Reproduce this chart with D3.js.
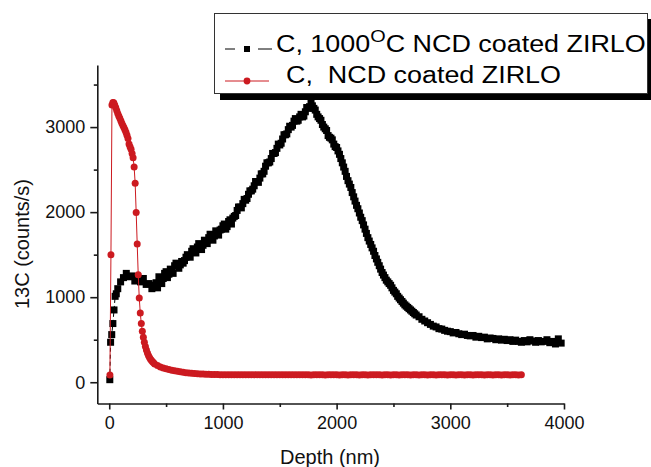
<!DOCTYPE html>
<html lang="en">
<head>
    <meta charset="UTF-8" />
    <title>13C depth profile</title>
    <script src="https://d3js.org/d3.v7.min.js"></script>
    <style>
        body, html {
            margin: 0;
            padding: 0;
            background: #fff;
        }
        svg {
            display: block;
            font-family: "Liberation Sans", Arial, sans-serif;
        }
        .axis path, .axis line {
            stroke: #1a1a1a;
            stroke-width: 1.6px;
        }
        .axis text {
            font-family: "Liberation Sans", Arial, sans-serif;
            font-size: 18px;
            fill: #111;
        }
    </style>
</head>
<body>
    <div id="chart"></div>

    <script>
        // tick values
        const xMajorTicks = [0, 1000, 2000, 3000, 4000];
        const xMinorTicks = [500, 1500, 2500, 3500];
        const yMajorTicks = [0, 1000, 2000, 3000];
        const yMinorTicks = [500, 1500, 2500, 3500];

        // [depth nm, counts/s] - C, 1000oC NCD coated ZIRLO (black squares)
        const annealed = [
            [5,30],[12,470],[22,560],[32,690],[42,850],[52,1010],[62,1040],[75,1100],
            [100,1180],[125,1230],[150,1280],[175,1240],[200,1250],[225,1190],[250,1240],[275,1180],[300,1220],[325,1150],
            [350,1160],[375,1100],[400,1140],[412,1170],[425,1110],[437,1240],[450,1200],[462,1160],[475,1220],[487,1280],
            [500,1300],[512,1230],[525,1270],[537,1330],[550,1300],[562,1280],[575,1370],[587,1400],[600,1370],[612,1340],
            [625,1380],[637,1420],[650,1400],[662,1430],[675,1470],[687,1500],[700,1480],[712,1470],[725,1540],[737,1570],
            [750,1550],[762,1520],[775,1590],[787,1630],[800,1600],[812,1560],[825,1610],[837,1670],[850,1650],[862,1630],
            [875,1700],[887,1740],[900,1710],[912,1670],[925,1720],[937,1780],[950,1760],[962,1730],[975,1790],[987,1800],
            [1000,1840],[1012,1860],[1025,1800],[1037,1830],[1050,1890],[1062,1910],[1075,1860],[1087,1930],[1100,1950],[1112,1960],
            [1125,2020],[1137,2060],[1150,2060],[1162,2050],[1175,2100],[1187,2150],[1200,2140],[1212,2160],[1225,2210],[1237,2250],
            [1250,2250],[1262,2270],[1275,2310],[1287,2360],[1300,2360],[1312,2350],[1325,2400],[1337,2450],[1350,2450],[1362,2480],
            [1375,2540],[1387,2580],[1400,2580],[1412,2590],[1425,2630],[1437,2690],[1450,2690],[1462,2700],[1475,2750],[1487,2800],
            [1500,2790],[1512,2810],[1525,2860],[1537,2910],[1550,2910],[1562,2920],[1575,2970],[1587,3010],[1600,3000],[1612,3020],
            [1625,3070],[1637,3100],[1650,3070],[1662,3080],[1675,3120],[1687,3150],[1700,3120],[1712,3130],[1725,3180],[1737,3230],
            [1750,3220],[1762,3240],[1775,3280],[1787,3250],[1800,3220],[1812,3200],[1825,3150],[1837,3120],[1850,3100],[1862,3080],
            [1875,3030],[1887,3000],[1900,2980],[1912,2960],[1925,2900],[1937,2880],[1950,2870],[1962,2850],[1975,2800],[1987,2770],
            [2000,2760],[2012,2720],[2025,2680],[2037,2630],[2050,2580],[2062,2530],[2075,2480],[2087,2420],[2100,2370],[2112,2330],
            [2125,2290],[2137,2230],[2150,2180],[2162,2130],[2175,2080],[2187,2040],[2200,1990],[2212,1940],[2225,1900],[2237,1850],
            [2250,1800],[2262,1750],[2275,1700],[2287,1660],[2300,1620],[2312,1580],[2325,1540],[2337,1490],[2350,1450],[2362,1410],
            [2375,1370],[2387,1330],[2400,1290],[2412,1260],[2425,1230],[2437,1200],[2450,1180],[2462,1160],[2475,1140],[2487,1110],
            [2500,1080],[2512,1060],[2525,1040],[2537,1010],[2550,990],[2562,970],[2575,950],[2587,930],[2600,910],[2612,895],
            [2625,880],[2637,865],[2650,850],[2662,835],[2675,820],[2687,805],[2700,790],[2725,770],[2750,740],[2775,720],
            [2800,700],[2825,680],[2850,660],[2875,650],[2900,630],[2925,625],[2950,610],[2975,600],[3000,595],[3025,580],
            [3050,585],[3075,570],[3100,560],[3125,565],[3150,550],[3175,545],[3200,550],[3225,530],[3250,540],[3275,525],
            [3300,530],[3325,510],[3350,520],[3375,515],[3400,500],[3425,510],[3450,495],[3475,505],[3500,490],[3525,500],
            [3550,480],[3575,495],[3600,480],[3625,470],[3650,490],[3675,475],[3700,500],[3725,485],[3750,470],[3775,490],
            [3800,475],[3825,480],[3850,500],[3875,465],[3900,480],[3925,450],[3950,510],[3975,460]
        ];

        // [depth nm, counts/s] - C, NCD coated ZIRLO (red circles)
        const asCoated = [
            [6,86],[15,1500],[24,3260],[32,3290],[40,3285],[48,3260],[57,3230],[66,3195],[75,3160],[84,3130],
            [93,3105],[102,3075],[111,3045],[120,3020],[129,2995],[138,2970],[147,2940],[156,2905],[165,2865],[174,2800],
            [183,2770],[192,2740],[201,2690],[210,2640],[219,2530],[228,2340],[237,1995],[246,1625],[255,1265],[264,990],
            [273,815],[282,690],[291,600],[300,530],[309,470],[318,420],[327,380],[336,345],[345,315],[354,290],
            [363,270],[372,255],[381,240],[390,228],[400,215],[425,198],[450,180],[475,168],[500,158],[525,150],
            [550,142],[575,135],[600,128],[625,122],[650,117],[675,113],[700,109],[725,106],[750,103],[775,100],
            [800,98],[825,96],[850,95],[875,93],[900,92],[925,91],[950,90],[975,89],[1000,89],[1025,88],
            [1050,88],[1075,87],[1100,88],[1125,87],[1150,88],[1175,88],[1200,87],[1225,88],[1250,87],[1275,87],
            [1300,88],[1325,87],[1350,88],[1375,87],[1400,87],[1425,88],[1450,87],[1475,88],[1500,87],[1525,87],
            [1550,88],[1575,87],[1600,87],[1625,88],[1650,87],[1675,87],[1700,88],[1725,87],[1750,87],[1775,86],
            [1800,87],[1825,87],[1850,88],[1875,87],[1900,86],[1925,87],[1950,87],[1975,88],[2000,87],[2025,86],
            [2050,87],[2075,87],[2100,86],[2125,87],[2150,88],[2175,87],[2200,86],[2225,87],[2250,87],[2275,86],
            [2300,87],[2325,87],[2350,88],[2375,87],[2400,86],[2425,87],[2450,87],[2475,86],[2500,87],[2525,87],
            [2550,86],[2575,87],[2600,88],[2625,87],[2650,86],[2675,87],[2700,87],[2725,86],[2750,87],[2775,87],
            [2800,86],[2825,87],[2850,87],[2875,86],[2900,87],[2925,88],[2950,87],[2975,86],[3000,87],[3025,87],
            [3050,86],[3075,87],[3100,87],[3125,86],[3150,87],[3175,87],[3200,86],[3225,87],[3250,88],[3275,87],
            [3300,86],[3325,87],[3350,87],[3375,86],[3400,87],[3425,87],[3450,86],[3475,87],[3500,87],[3525,86],
            [3550,87],[3575,87],[3600,86],[3625,87]
        ];

        const red = "#cc1a20";
        const width = 651, height = 467;

        const svg = d3.select("#chart").append("svg")
            .attr("width", width)
            .attr("height", height);

        const x = d3.scaleLinear().domain([-105, 4000]).range([97.3, 564]);
        const y = d3.scaleLinear().domain([-250, 3730]).range([403.5, 65]);
        const fmt = d3.format("d");

        // axes
        svg.append("g")
            .attr("class", "axis")
            .attr("transform", `translate(0,${y(-250)})`)
            .call(d3.axisBottom(x).tickValues(xMajorTicks).tickFormat(fmt).tickSize(6).tickSizeOuter(0).tickPadding(7));

        svg.append("g")
            .attr("class", "axis")
            .attr("transform", `translate(0,${y(-250)})`)
            .call(d3.axisBottom(x).tickValues(xMinorTicks).tickSize(3.5).tickSizeOuter(0).tickFormat(""))
            .select(".domain").remove();

        svg.append("g")
            .attr("class", "axis")
            .attr("transform", `translate(${x(-105)},0)`)
            .call(d3.axisLeft(y).tickValues(yMajorTicks).tickFormat(fmt).tickSize(7).tickSizeOuter(0).tickPadding(5));

        svg.append("g")
            .attr("class", "axis")
            .attr("transform", `translate(${x(-105)},0)`)
            .call(d3.axisLeft(y).tickValues(yMinorTicks).tickSize(3.5).tickSizeOuter(0).tickFormat(""))
            .select(".domain").remove();

        // axis titles
        svg.append("text")
            .attr("x", 330)
            .attr("y", 464)
            .attr("text-anchor", "middle")
            .attr("fill", "#111")
            .style("font-size", "20px")
            .text("Depth (nm)");

        svg.append("text")
            .attr("transform", "translate(29,244) rotate(-90)")
            .attr("text-anchor", "middle")
            .attr("fill", "#111")
            .style("font-size", "20px")
            .text("13C (counts/s)");

        const line = d3.line()
            .x(d => x(d[0]))
            .y(d => y(d[1]));

        // black series
        svg.append("path")
            .datum(annealed)
            .attr("fill", "none")
            .attr("stroke", "#000")
            .attr("stroke-width", 1)
            .attr("stroke-dasharray", "4,3")
            .attr("d", line);

        svg.append("g").selectAll("rect")
            .data(annealed)
            .join("rect")
            .attr("x", d => x(d[0]) - 3.5)
            .attr("y", d => y(d[1]) - 3.5)
            .attr("width", 7)
            .attr("height", 7)
            .attr("fill", "#000");

        // red series
        svg.append("path")
            .datum(asCoated)
            .attr("fill", "none")
            .attr("stroke", red)
            .attr("stroke-width", 1)
            .attr("d", line);

        svg.append("g").selectAll("circle")
            .data(asCoated)
            .join("circle")
            .attr("cx", d => x(d[0]))
            .attr("cy", d => y(d[1]))
            .attr("r", 3.5)
            .attr("fill", red);

        // legend
        const legend = svg.append("g");

        legend.append("rect")
            .attr("x", 220).attr("y", 19)
            .attr("width", 434).attr("height", 81)
            .attr("fill", "#000");

        legend.append("rect")
            .attr("x", 214.5).attr("y", 13.5)
            .attr("width", 433).attr("height", 80)
            .attr("fill", "#fff")
            .attr("stroke", "#333")
            .attr("stroke-width", 1);

        legend.append("line")
            .attr("x1", 225).attr("x2", 235)
            .attr("y1", 49).attr("y2", 49)
            .attr("stroke", "#000")
            .attr("stroke-width", 1);
        legend.append("line")
            .attr("x1", 258).attr("x2", 272)
            .attr("y1", 49).attr("y2", 49)
            .attr("stroke", "#000")
            .attr("stroke-width", 1);
        legend.append("rect")
            .attr("x", 244).attr("y", 46)
            .attr("width", 6).attr("height", 6)
            .attr("fill", "#000");

        legend.append("line")
            .attr("x1", 225).attr("x2", 269)
            .attr("y1", 81).attr("y2", 81)
            .attr("stroke", red)
            .attr("stroke-width", 1);
        legend.append("circle")
            .attr("cx", 247).attr("cy", 81)
            .attr("r", 3.4)
            .attr("fill", red);

        const t1 = legend.append("text")
            .attr("transform", "translate(276,51.7) scale(1.17,1)")
            .style("font-size", "23px");
        t1.append("tspan").text("C, 1000");
        t1.append("tspan").attr("dy", -10).style("font-size", "17px").text("O");
        t1.append("tspan").attr("dy", 10).text("C NCD coated ZIRLO");

        legend.append("text")
            .attr("transform", "translate(286,83.3) scale(1.17,1)")
            .style("font-size", "23px")
            .style("white-space", "pre")
            .text("C,  NCD coated ZIRLO");
    </script>
</body>
</html>
